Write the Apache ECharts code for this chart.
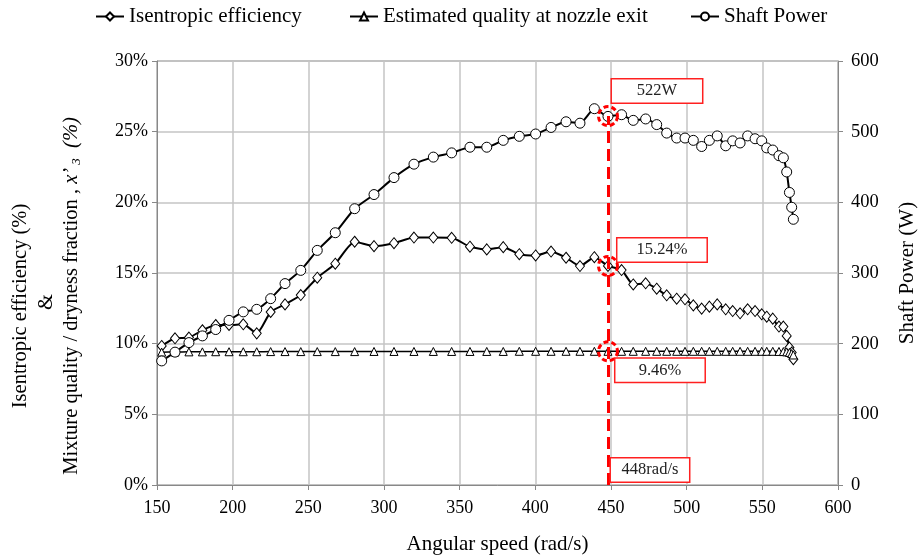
<!DOCTYPE html>
<html>
<head>
<meta charset="utf-8">
<script src="https://cdn.jsdelivr.net/npm/echarts@6/dist/echarts.min.js"></script>
<style>
html,body{margin:0;padding:0;background:#fff;}
#chart{width:921px;height:560px;}
</style>
</head>
<body>
<div id="chart"></div>
<script>
// Angular speed (rad/s)
const speed = [153.1, 161.9, 171.1, 180, 188.8, 197.6, 207, 215.9, 225.1, 234.6, 245, 255.9, 267.8, 280.6, 293.4, 306.6, 319.8, 332.6, 344.7, 356.8, 367.9, 378.8, 389.4, 400.2, 410.4, 420.3, 429.5, 439, 448, 457, 464.7, 472.9, 480.2, 486.8, 493.4, 498.9, 504.4, 509.9, 515, 520.2, 525.8, 530.4, 535.3, 540.3, 545.2, 549.6, 552.9, 556.9, 561, 563.9, 566.1, 567.9, 569.4, 570.5];
// Isentropic efficiency (%)
const efficiency = [9.84, 10.38, 10.43, 10.95, 11.32, 11.32, 11.37, 10.73, 12.24, 12.78, 13.44, 14.67, 15.66, 17.21, 16.90, 17.11, 17.51, 17.51, 17.49, 16.86, 16.67, 16.83, 16.33, 16.24, 16.52, 16.08, 15.49, 16.12, 15.5, 15.21, 14.19, 14.27, 13.89, 13.42, 13.18, 13.14, 12.71, 12.48, 12.62, 12.78, 12.43, 12.31, 12.15, 12.43, 12.31, 12.08, 11.91, 11.77, 11.21, 11.21, 10.55, 9.72, 9.37, 8.90];
// Estimated quality at nozzle exit (%)
const quality = [9.40, 9.41, 9.42, 9.42, 9.43, 9.43, 9.43, 9.43, 9.44, 9.44, 9.44, 9.44, 9.44, 9.44, 9.45, 9.45, 9.45, 9.45, 9.45, 9.45, 9.45, 9.45, 9.46, 9.46, 9.46, 9.46, 9.46, 9.46, 9.46, 9.46, 9.46, 9.46, 9.46, 9.46, 9.46, 9.46, 9.46, 9.46, 9.46, 9.46, 9.46, 9.46, 9.46, 9.46, 9.46, 9.46, 9.46, 9.46, 9.45, 9.44, 9.42, 9.38, 9.30, 9.20];
// Shaft Power (W)
const power = [175.6, 188, 201.5, 211, 220, 233, 245, 248.6, 263.7, 285, 303.7, 332, 357, 391, 411, 435, 454, 464, 470, 478, 478, 487.7, 493.4, 496.7, 506, 514, 512, 532.5, 521.6, 524, 516, 518, 510, 498, 491, 491, 487.7, 479, 487.7, 494, 480, 487, 484, 494, 490, 487, 477, 474, 466, 463, 443, 414, 393, 376];

const xTicks = {min: 150, max: 600, interval: 50};
const leftTicks = {min: 0, max: 30, interval: 5};
const rightTicks = {min: 0, max: 600, interval: 100};

// annotation values
const markSpeed = 448;
const markPower = 522;
const markEff = 15.5;
const markQual = 9.46;
const labelPower = '522W';
const labelEff = '15.24%';
const labelQual = '9.46%';
const labelSpeed = '448rad/s';

const FONT = 'Liberation Serif';
const chart = echarts.init(document.getElementById('chart'), null, {renderer: 'canvas'});

function pairs(ys){ return speed.map((x,i)=>[x, ys[i]]); }

const redBox = (w) => ({
  show: true, position: 'inside', color: '#222', fontFamily: FONT, fontSize: 16.5,
  backgroundColor: '#fff', borderColor: '#ff2020', borderWidth: 1.5,
  width: w, height: 21, lineHeight: 21, align: 'center', verticalAlign: 'middle', padding: [1, 1]
});
const dashedCircle = {color: 'rgba(0,0,0,0)', borderColor: '#ff0000', borderWidth: 3, borderType: [5, 3]};

const axisGrey = '#888';
const gridGrey = '#c4c4c4';
const legendText = {fontFamily: FONT, fontSize: 21, color: '#000'};

chart.setOption({
  animation: false,
  backgroundColor: '#fff',
  grid: {left: 157, right: 83, top: 61, bottom: 74, show: true, borderColor: '#777', borderWidth: 1},
  legend: [
    {left: 95, top: 6, padding: 0, itemWidth: 28, itemHeight: 10, data: ['Isentropic efficiency'], textStyle: legendText},
    {left: 349, top: 6, padding: 0, itemWidth: 28, itemHeight: 10, data: ['Estimated quality at nozzle exit'], textStyle: legendText},
    {left: 690, top: 6, padding: 0, itemWidth: 28, itemHeight: 10, data: ['Shaft Power'], textStyle: legendText}
  ],
  xAxis: {
    type: 'value', min: xTicks.min, max: xTicks.max, interval: xTicks.interval,
    name: 'Angular speed (rad/s)', nameLocation: 'middle', nameGap: 49,
    nameTextStyle: {fontFamily: FONT, fontSize: 21, color: '#000'},
    axisLine: {show: true, lineStyle: {color: axisGrey, width: 1}},
    axisTick: {show: true, inside: false, length: 5, lineStyle: {color: axisGrey}},
    axisLabel: {fontFamily: FONT, fontSize: 18, color: '#000', margin: 14},
    splitLine: {show: true, lineStyle: {color: gridGrey, width: 1.5}}
  },
  yAxis: [
    {
      type: 'value', min: leftTicks.min, max: leftTicks.max, interval: leftTicks.interval,
      axisLine: {show: true, lineStyle: {color: axisGrey, width: 1}},
      axisTick: {show: true, inside: false, length: 5, lineStyle: {color: axisGrey}},
      axisLabel: {fontFamily: FONT, fontSize: 18, color: '#000', margin: 9, formatter: '{value}%'},
      splitLine: {show: true, lineStyle: {color: gridGrey, width: 1.5}}
    },
    {
      type: 'value', min: rightTicks.min, max: rightTicks.max, interval: rightTicks.interval, position: 'right',
      axisLine: {show: true, lineStyle: {color: axisGrey, width: 1}},
      axisTick: {show: true, inside: false, length: 5, lineStyle: {color: axisGrey}},
      axisLabel: {fontFamily: FONT, fontSize: 18.5, color: '#000', margin: 13},
      splitLine: {show: false}
    }
  ],
  graphic: [
    {type: 'text', x: 21, y: 306, rotation: Math.PI / 2,
     style: {text: 'Isentropic efficiency (%)', fontFamily: FONT, fontSize: 20.5, fill: '#000', textAlign: 'center', textVerticalAlign: 'middle'}},
    {type: 'text', x: 47, y: 302, rotation: Math.PI / 2,
     style: {text: '&', fontFamily: FONT, fontSize: 20.5, fill: '#000', textAlign: 'center', textVerticalAlign: 'middle'}},
    {type: 'text', x: 72, y: 296, rotation: Math.PI / 2,
     style: {text: 'Mixture quality / dryness fraction , {i|x\u2019}{s| 3}{i|  (%)}', fontFamily: FONT, fontSize: 20.5, fill: '#000', textAlign: 'center', textVerticalAlign: 'middle',
       rich: {i: {fontFamily: FONT, fontSize: 20.5, fontStyle: 'italic', fill: '#000'}, s: {fontFamily: FONT, fontSize: 13, fontStyle: 'italic', fill: '#000', verticalAlign: 'bottom', padding: [9, 0, 0, 0]}}}},
    {type: 'text', x: 907, y: 273, rotation: Math.PI / 2,
     style: {text: 'Shaft Power (W)', fontFamily: FONT, fontSize: 21, fill: '#000', textAlign: 'center', textVerticalAlign: 'middle'}}
  ],
  series: [
    {
      name: 'Isentropic efficiency', type: 'line', yAxisIndex: 0, data: pairs(efficiency),
      smooth: 0.2, symbol: 'diamond', symbolSize: [9, 11],
      lineStyle: {color: '#000', width: 2}, itemStyle: {color: '#fff', borderColor: '#000', borderWidth: 1},
      markPoint: {
        silent: true, symbol: 'circle', symbolSize: 19, itemStyle: dashedCircle,
        data: [{coord: [markSpeed, markEff], value: labelEff, label: Object.assign(redBox(87), {offset: [54, -16], formatter: labelEff})}]
      }
    },
    {
      name: 'Estimated quality at nozzle exit', type: 'line', yAxisIndex: 0, data: pairs(quality),
      smooth: 0.2, symbol: 'triangle', symbolSize: 8,
      lineStyle: {color: '#000', width: 1.5}, itemStyle: {color: '#fff', borderColor: '#000', borderWidth: 1},
      markPoint: {
        silent: true, symbol: 'circle', symbolSize: 19, itemStyle: dashedCircle,
        data: [
          {coord: [markSpeed, markQual], value: labelQual, label: Object.assign(redBox(87), {offset: [52, 19], formatter: labelQual})},
          {coord: [markSpeed, 0], value: labelSpeed, symbolSize: 0, label: Object.assign(redBox(76), {offset: [42, -15], formatter: labelSpeed})}
        ]
      }
    },
    {
      name: 'Shaft Power', type: 'line', yAxisIndex: 1, data: pairs(power),
      smooth: 0.2, symbol: 'circle', symbolSize: 10,
      lineStyle: {color: '#000', width: 2}, itemStyle: {color: '#fff', borderColor: '#000', borderWidth: 1},
      markLine: {
        silent: true, symbol: ['none', 'none'], label: {show: false},
        lineStyle: {color: '#ff0000', width: 3, type: [12, 6]},
        data: [[{coord: [markSpeed, 0]}, {coord: [markSpeed, markPower]}]]
      },
      markPoint: {
        silent: true, symbol: 'circle', symbolSize: 19, itemStyle: dashedCircle,
        data: [{coord: [markSpeed, markPower], value: labelPower, label: Object.assign(redBox(88), {offset: [49, -25], formatter: labelPower})}]
      }
    }
  ]
});
</script>
</body>
</html>
